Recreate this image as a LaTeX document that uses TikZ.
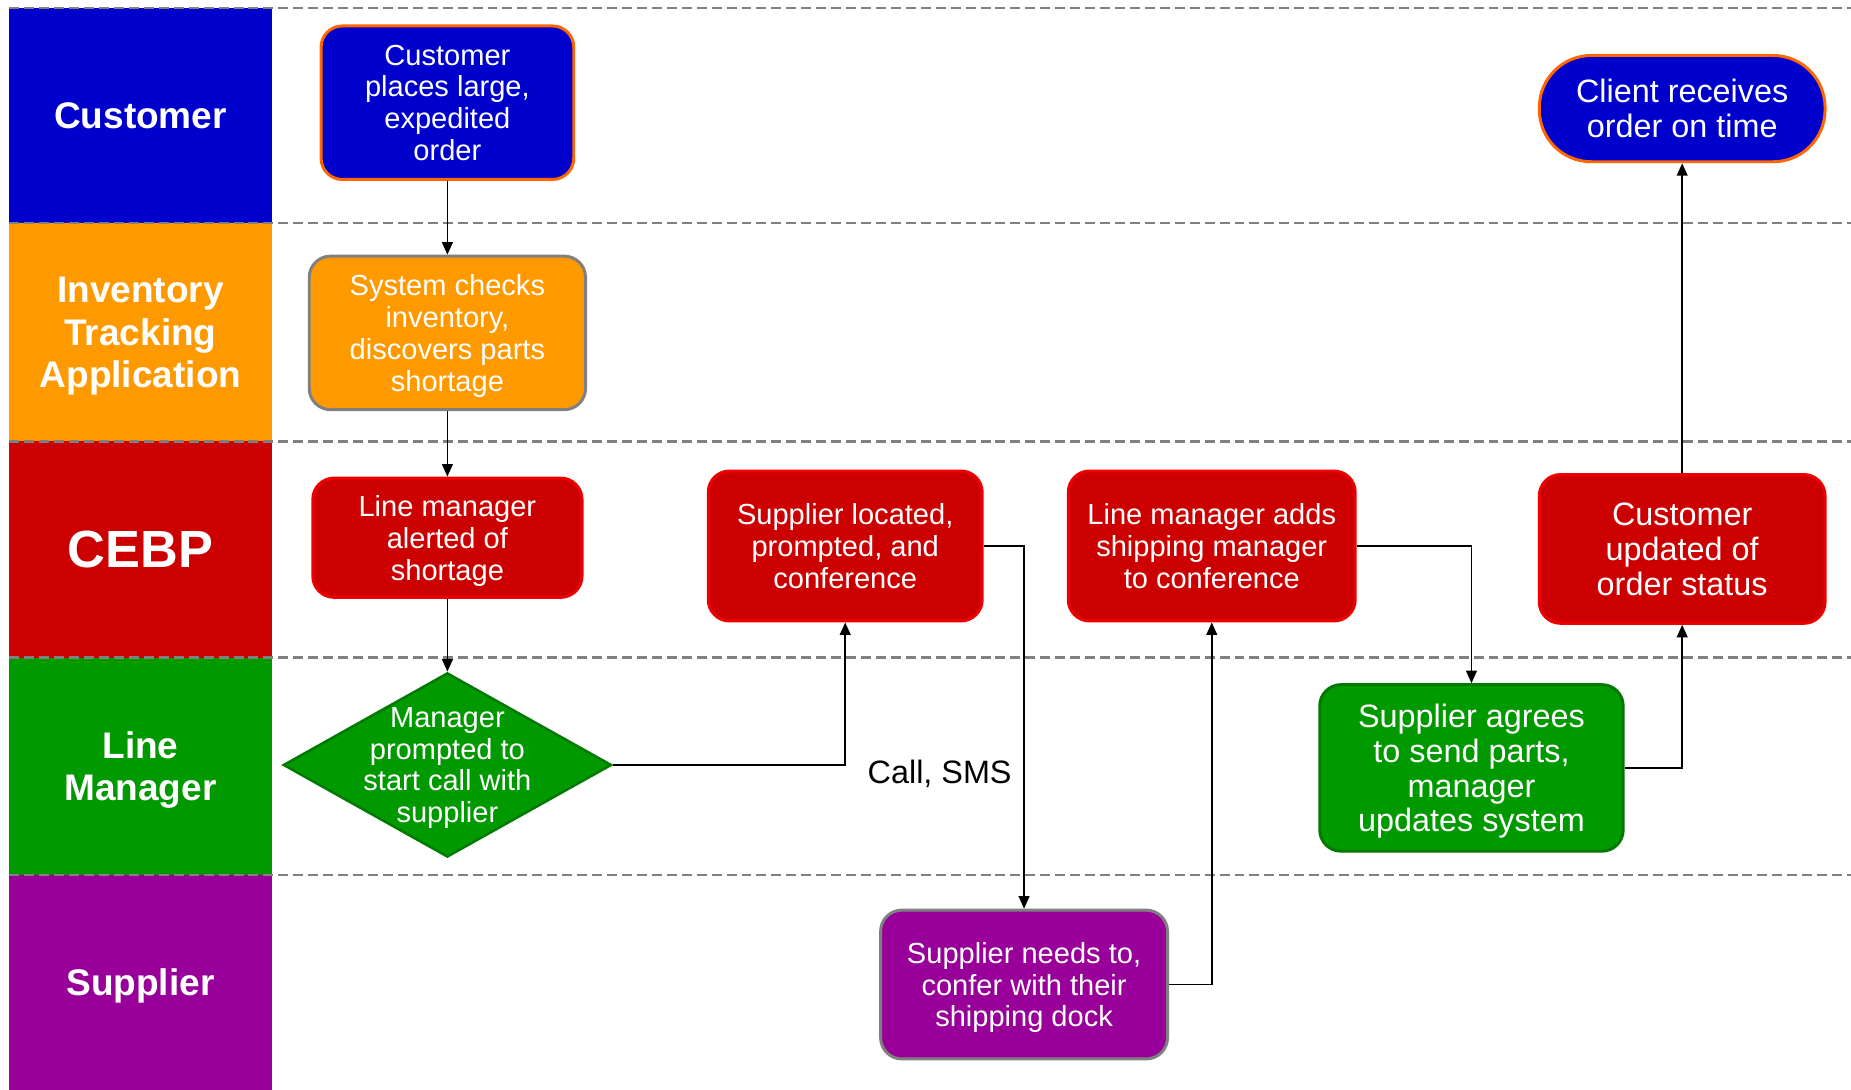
\documentclass[tikz,border=0pt]{standalone}
\usepackage{fontspec}
\setmainfont{Liberation Sans}
\usetikzlibrary{shapes.geometric,arrows.meta}
\definecolor{cblue}{HTML}{0000CC}
\definecolor{corange}{HTML}{FF9900}
\definecolor{cred}{HTML}{CC0000}
\definecolor{cgreen}{HTML}{009900}
\definecolor{cpurple}{HTML}{990099}
\definecolor{borange}{HTML}{FF6600}
\definecolor{bgray}{HTML}{808080}
\definecolor{bred}{HTML}{EE0000}
\definecolor{bgreen}{HTML}{007A00}
\definecolor{sepgray}{HTML}{808080}
\begin{document}
\begin{tikzpicture}[x=0.025cm,y=-0.025cm,
  lanehead/.style={inner sep=0pt, outer sep=0pt, text=white, align=center, text depth=0pt,
    minimum width=5.55cm, font=\fontsize{22.3}{25.5}\selectfont\bfseries},
  box/.style={draw, line width=1.8pt, rounded corners=0.45cm, text=white, text depth=0pt,
    align=center, inner sep=0pt, font=\fontsize{17.5}{19.2}\selectfont},
  bigtxt/.style={font=\fontsize{19.5}{21}\selectfont},
  flow/.style={-{Triangle[length=7.5pt,width=6.5pt]}, line width=0.9pt, draw=black},
  sepline/.style={draw=sepgray, line width=1.3pt, dash pattern=on 6pt off 3pt}]
\useasboundingbox (0,0) rectangle (1568,923);
\fill[white] (0,0) rectangle (1568,923);

% lane headers
\node[lanehead, fill=cblue, minimum height=4.55cm] (hcust) at (119,98) {Customer};
\node[lanehead, fill=corange, minimum height=4.625cm] (hinv) at (119,281.5) {Inventory\\Tracking\\Application};
\node[lanehead, fill=cred, minimum height=4.575cm, font=\fontsize{31.5}{34}\selectfont\bfseries] (hcebp) at (119,465.5) {CEBP};
\node[lanehead, fill=cgreen, minimum height=4.6cm] (hline) at (119,649) {Line\\Manager};
\node[lanehead, fill=cpurple, minimum height=4.55cm] (hsup) at (119,832) {Supplier};

% separators
\foreach \yy in {7,189,374,557,741}{
  \draw[sepline] (8,\yy) -- (1568,\yy);
}

% nodes
\node[box, fill=cblue, draw=borange, minimum width=5.35cm, minimum height=3.25cm] (n1) at (379,87)
  {Customer\\places large,\\expedited\\order};
\node[box, fill=corange, draw=bgray, minimum width=5.85cm, minimum height=3.25cm] (n2) at (379,282)
  {System checks\\inventory,\\discovers parts\\shortage};
\node[box, fill=cred, draw=bred, minimum width=5.7cm, minimum height=2.525cm] (n3) at (379,455.5)
  {Line manager\\alerted of\\shortage};
\node[diamond, draw=bgreen, fill=cgreen, line width=1.5pt, inner sep=0pt,
  minimum width=6.95cm, minimum height=3.9cm] (n4) at (379,648) {};
\node[text=white, align=center, inner sep=0pt, text depth=0pt, font=\fontsize{17.5}{19.2}\selectfont] (n4t) at (n4.center)
  {Manager\\prompted to\\start call with\\supplier};
\node[box, fill=cred, draw=bred, minimum width=5.8cm, minimum height=3.175cm] (n5) at (716,462.5)
  {Supplier located,\\prompted, and\\conference};
\node[box, fill=cred, draw=bred, minimum width=6.075cm, minimum height=3.175cm] (n6) at (1026.5,462.5)
  {Line manager adds\\shipping manager\\to conference};
\node[box, bigtxt, fill=cred, draw=bred, minimum width=6.05cm, minimum height=3.15cm] (n7) at (1425,465)
  {Customer\\updated of\\order status};
\node[box, bigtxt, fill=cblue, draw=borange, rounded corners=1.1cm, minimum width=6.05cm, minimum height=2.25cm] (n8) at (1425,92)
  {Client receives\\order on time};
\node[box, bigtxt, fill=cgreen, draw=bgreen, minimum width=6.425cm, minimum height=3.525cm] (n9) at (1246.5,650.5)
  {Supplier agrees\\to send parts,\\manager\\updates system};
\node[box, fill=cpurple, draw=bgray, minimum width=6.075cm, minimum height=3.15cm] (n10) at (867.5,834)
  {Supplier needs to,\\confer with their\\shipping dock};
\node[bigtxt, inner sep=0pt, text depth=0pt] (lbl) at (796,654) {Call, SMS};

% connectors
\draw[flow] (n1.south) -- (n2.north);
\draw[flow] (n2.south) -- (n3.north);
\draw[flow] (n3.south) -- (n4.north);
\draw[flow] (n4.east) -| (n5.south);
\draw[flow] (n5.east) -| (n10.north);
\draw[flow] (n10.east) -| (n6.south);
\draw[flow] (n6.east) -| (n9.north);
\draw[flow] (n9.east) -| (n7.south);
\draw[flow] (n7.north) -- (n8.south);
\end{tikzpicture}
\end{document}
